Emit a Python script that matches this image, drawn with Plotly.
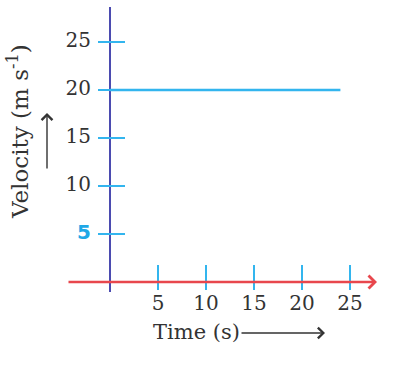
import plotly.graph_objects as go

# ---- data ----
time_ticks = [5, 10, 15, 20, 25]
time_tick_labels = ["5", "10", "15", "20", "25"]
velocity_ticks = [10, 15, 20, 25]
velocity_tick_labels = ["10", "15", "20", "25"]
velocity_highlight_tick = [5]
velocity_highlight_label = ["5"]
time_s = [0, 24]
velocity_ms = [20, 20]
x_title = "Time (s)"
y_title = "Velocity (m s<sup>-1</sup>)"

# ---- layout constants (pixel mapping) ----
W, H = 420, 380
X0, Y0 = 110, 282        # pixel position of origin
PX = 9.6                 # pixels per unit

def dx(p):  # pixel -> data x
    return (p - X0) / PX

def dy(p):  # pixel -> data y
    return (Y0 - p) / PX

FONT = "DejaVu Serif"
TXT = "#333333"
RED = "#e8474d"
AXBLUE = "#4b4bb0"
LBLUE = "#33b5ee"

fig = go.Figure()

# y axis line
fig.add_trace(go.Scatter(x=[0, 0], y=[dy(292), dy(7)], mode="lines",
                         line=dict(color=AXBLUE, width=2), hoverinfo="skip"))

# y ticks
yt_x, yt_y = [], []
for v in [velocity_highlight_tick[0]] + velocity_ticks:
    yt_x += [dx(98), dx(125), None]
    yt_y += [v, v, None]
fig.add_trace(go.Scatter(x=yt_x, y=yt_y, mode="lines",
                         line=dict(color=LBLUE, width=2), hoverinfo="skip"))

# x ticks
xt_x, xt_y = [], []
for t in time_ticks:
    xt_x += [t, t, None]
    xt_y += [dy(290), dy(265), None]
fig.add_trace(go.Scatter(x=xt_x, y=xt_y, mode="lines",
                         line=dict(color=LBLUE, width=2), hoverinfo="skip"))

# velocity line
fig.add_trace(go.Scatter(x=time_s, y=velocity_ms, mode="lines",
                         line=dict(color=LBLUE, width=2.5), hoverinfo="skip"))

# tick labels
fig.add_trace(go.Scatter(x=time_ticks, y=[dy(305)] * len(time_ticks), mode="text",
                         text=time_tick_labels, textposition="middle center",
                         textfont=dict(family=FONT, size=20, color=TXT), hoverinfo="skip"))
fig.add_trace(go.Scatter(x=[dx(91)] * len(velocity_ticks), y=velocity_ticks, mode="text",
                         text=velocity_tick_labels, textposition="middle left",
                         textfont=dict(family=FONT, size=20, color=TXT), hoverinfo="skip"))
fig.add_trace(go.Scatter(x=[dx(91)], y=velocity_highlight_tick, mode="text",
                         text=["<b>" + s + "</b>" for s in velocity_highlight_label],
                         textposition="middle left",
                         textfont=dict(family="DejaVu Sans", size=20, color="#1fa8e6"),
                         hoverinfo="skip"))

# x axis with arrow
fig.add_annotation(x=dx(377), y=0, ax=dx(67), ay=0, xref="x", yref="y",
                   axref="x", ayref="y", text="", showarrow=True,
                   arrowhead=4, arrowsize=1, arrowwidth=2.5, arrowcolor=RED, standoff=0)

# titles
fig.add_annotation(x=dx(196), y=dy(332), text=x_title, showarrow=False,
                   font=dict(family=FONT, size=21, color=TXT), xanchor="center", yanchor="middle")
fig.add_annotation(x=dx(325), y=dy(333), ax=dx(240), ay=dy(333), xref="x", yref="y",
                   axref="x", ayref="y", text="", showarrow=True,
                   arrowhead=4, arrowsize=1.5, arrowwidth=1.4, arrowcolor=TXT, standoff=0)
fig.add_annotation(x=dx(18), y=dy(132), text=y_title, showarrow=False, textangle=-90,
                   font=dict(family=FONT, size=23, color=TXT), xanchor="center", yanchor="middle")
fig.add_annotation(x=dx(47), y=dy(113), ax=dx(47), ay=dy(170), xref="x", yref="y",
                   axref="x", ayref="y", text="", showarrow=True,
                   arrowhead=4, arrowsize=1.5, arrowwidth=1.4, arrowcolor=TXT, standoff=0)

fig.update_layout(
    width=W, height=H, margin=dict(l=0, r=0, t=0, b=0),
    paper_bgcolor="white", plot_bgcolor="white", showlegend=False,
    xaxis=dict(range=[dx(0), dx(W)], visible=False, fixedrange=True),
    yaxis=dict(range=[dy(H), dy(0)], visible=False, fixedrange=True),
)

fig.write_html("out.html", config={"displayModeBar": False},
               post_script="document.body.style.margin='0';")
